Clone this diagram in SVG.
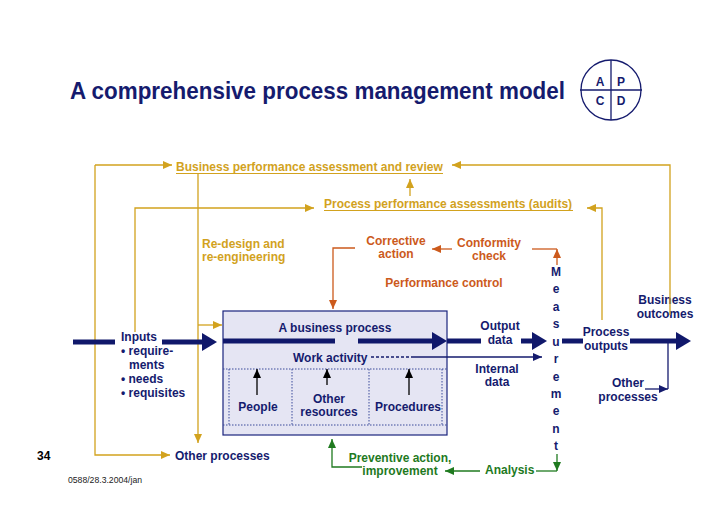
<svg xmlns="http://www.w3.org/2000/svg" width="728" height="514" viewBox="0 0 728 514">
<defs>
<style>
text{font-family:"Liberation Sans",Arial,sans-serif;font-weight:bold;font-size:12px}
.nv{fill:#151b6e}
.gd{fill:#d2a21e}
.or{fill:#cc5a1c}
.gr{fill:#1f7a1f}
.m{text-anchor:middle}
.lg{stroke:#d2a21e;stroke-width:1.3;fill:none}
.lo{stroke:#cc5a1c;stroke-width:1.3;fill:none}
.lgr{stroke:#1f7a1f;stroke-width:1.3;fill:none}
.ln{stroke:#151b6e;stroke-width:1.3;fill:none}
.lk{stroke:#000;stroke-width:1.3;fill:none}
.thick{stroke:#10186b;stroke-width:5;fill:none}
.dot{stroke:#3a4a9a;stroke-width:1;stroke-dasharray:1.5 1.5;fill:none}
</style>
<marker id="ag" markerUnits="userSpaceOnUse" markerWidth="9" markerHeight="8" refX="9" refY="4" orient="auto"><path d="M0,0 L9,4 L0,8 z" fill="#d2a21e"/></marker>
<marker id="ao" markerUnits="userSpaceOnUse" markerWidth="9" markerHeight="8" refX="9" refY="4" orient="auto"><path d="M0,0 L9,4 L0,8 z" fill="#cc5a1c"/></marker>
<marker id="agr" markerUnits="userSpaceOnUse" markerWidth="9" markerHeight="8" refX="9" refY="4" orient="auto"><path d="M0,0 L9,4 L0,8 z" fill="#1f7a1f"/></marker>
<marker id="an" markerUnits="userSpaceOnUse" markerWidth="9" markerHeight="8" refX="9" refY="4" orient="auto"><path d="M0,0 L9,4 L0,8 z" fill="#151b6e"/></marker>
<marker id="ak" markerUnits="userSpaceOnUse" markerWidth="9" markerHeight="8" refX="9" refY="4" orient="auto"><path d="M0,0 L9,4 L0,8 z" fill="#000"/></marker>
<marker id="at" markerUnits="userSpaceOnUse" markerWidth="15" markerHeight="18" refX="0" refY="9" orient="auto"><path d="M0,0 L15,9 L0,18 z" fill="#10186b"/></marker>
</defs>
<rect width="728" height="514" fill="#fff"/>

<g id="title">
<text x="70" y="99" class="nv" style="font-size:24px" textLength="495" lengthAdjust="spacingAndGlyphs">A comprehensive process management model</text>
</g>
<g id="pdca">
<circle cx="611" cy="90" r="30" fill="#fff" stroke="#151b6e" stroke-width="1.3"/>
<path d="M611,60 V120 M580,90 H642" class="ln"/>
<text x="600" y="86" class="nv m">A</text>
<text x="621" y="86" class="nv m">P</text>
<text x="600" y="105" class="nv m">C</text>
<text x="621" y="105" class="nv m">D</text>
</g>

<g id="business-process">
<rect x="223" y="311" width="224" height="124" fill="#e5e5f3" stroke="#1a237e" stroke-width="1.2"/>
<path d="M223,369 H447 M223,425 H447 M229,369 V425 M292,369 V425 M369,369 V425 M442,369 V425" class="dot"/>
<text x="335" y="332" class="nv m">A business process</text>
<text x="293" y="362" class="nv">Work activity</text>
</g>
<g id="people"><text x="258" y="411" class="nv m">People</text></g>
<g id="other-resources"><text x="329" y="403" class="nv m">Other</text><text x="329" y="416" class="nv m">resources</text></g>
<g id="procedures"><text x="408" y="411" class="nv m">Procedures</text></g>

<g id="business-review"><text x="176" y="171" class="gd">Business performance assessment and review</text><path d="M176,173.5 H443" stroke="#d2a21e" stroke-width="1"/></g>
<g id="process-audits"><text x="324" y="208" class="gd">Process performance assessments (audits)</text><path d="M324,210.5 H573" stroke="#d2a21e" stroke-width="1"/></g>
<g id="redesign"><text x="202" y="248" class="gd">Re-design and</text><text x="202" y="261" class="gd">re-engineering</text></g>
<g id="corrective"><text x="396" y="245" class="or m">Corrective</text><text x="396" y="258" class="or m">action</text></g>
<g id="conformity"><text x="489" y="247" class="or m">Conformity</text><text x="489" y="260" class="or m">check</text></g>
<g id="perf-control"><text x="444" y="287" class="or m">Performance control</text></g>

<g id="inputs">
<text x="121" y="341" class="nv">Inputs</text>
<text x="121" y="355" class="nv">• require-</text>
<text x="129" y="369" class="nv">ments</text>
<text x="121" y="383" class="nv">• needs</text>
<text x="121" y="397" class="nv">• requisites</text>
</g>
<g id="output-data"><text x="500" y="330" class="nv m">Output</text><text x="500" y="344" class="nv m">data</text></g>
<g id="internal-data"><text x="497" y="373" class="nv m">Internal</text><text x="497" y="386" class="nv m">data</text></g>
<g id="measurement">
<text x="556" y="276" class="nv m">M</text>
<text x="556" y="293" class="nv m">e</text>
<text x="556" y="311" class="nv m">a</text>
<text x="556" y="328" class="nv m">s</text>
<text x="556" y="346" class="nv m">u</text>
<text x="556" y="363" class="nv m">r</text>
<text x="556" y="381" class="nv m">e</text>
<text x="556" y="398" class="nv m">m</text>
<text x="556" y="415" class="nv m">e</text>
<text x="556" y="433" class="nv m">n</text>
<text x="556" y="450" class="nv m">t</text>
</g>
<g id="process-outputs"><text x="606" y="336" class="nv m">Process</text><text x="606" y="350" class="nv m">outputs</text></g>
<g id="business-outcomes"><text x="665" y="304" class="nv m">Business</text><text x="665" y="318" class="nv m">outcomes</text></g>
<g id="other-processes-right"><text x="628" y="387" class="nv m">Other</text><text x="628" y="401" class="nv m">processes</text></g>
<g id="other-processes-bottom"><text x="175" y="460" class="nv">Other processes</text></g>
<g id="preventive"><text x="400" y="462" class="gr m">Preventive action,</text><text x="400" y="475" class="gr m">improvement</text></g>
<g id="analysis"><text x="485" y="474" class="gr">Analysis</text></g>
<g id="footer">
<text x="37" y="460" fill="#000">34</text>
<text x="68" y="483" fill="#222" style="font-size:9.5px;font-weight:normal" textLength="74" lengthAdjust="spacingAndGlyphs">0588/28.3.2004/jan</text>
</g>

<g id="connectors">
<path d="M95,165 H172" class="lg" marker-end="url(#ag)"/>
<path d="M95,165 V455 H170" class="lg" marker-end="url(#ag)"/>
<path d="M670,315 V165 H452" class="lg" marker-end="url(#ag)"/>
<path d="M198,174 V443" class="lg" marker-end="url(#ag)"/>
<path d="M410,196 V179" class="lg" marker-end="url(#ag)"/>
<path d="M135,332 V208 H314" class="lg" marker-end="url(#ag)"/>
<path d="M602,320 V208 H587" class="lg" marker-end="url(#ag)"/>
<path d="M198,325 H222" class="lg" marker-end="url(#ag)"/>

<path d="M452,249 H432" class="lo" marker-end="url(#ao)"/>
<path d="M355,248 H333 V309" class="lo" marker-end="url(#ao)"/>
<path d="M532,249 H557" class="lo"/>
<path d="M557,265 V249" class="lo" marker-end="url(#ao)"/>

<path d="M480,471 H445" class="lgr" marker-end="url(#agr)"/>
<path d="M362,467 H332 V439" class="lgr" marker-end="url(#agr)"/>
<path d="M536,471 H557" class="lgr"/>
<path d="M557,454 V471" class="lgr" marker-end="url(#agr)"/>

<path d="M73,342 H115" class="thick"/>
<path d="M162,342 H202" class="thick" marker-end="url(#at)"/>
<path d="M223,341 H335" class="thick"/>
<path d="M358,341 H432" class="thick" marker-end="url(#at)"/>
<path d="M447,341 H481" class="thick"/>
<path d="M521,341 H532" class="thick" marker-end="url(#at)"/>
<path d="M562,341 H583" class="thick"/>
<path d="M630,341 H676" class="thick" marker-end="url(#at)"/>

<path d="M668,341 V389" class="ln"/>
<path d="M645,389 H668" class="ln" marker-end="url(#an)"/>
<path d="M371,357 H412" class="ln" stroke-dasharray="3 2" stroke-width="1"/>
<path d="M412,357 H542" class="ln" stroke-width="1" marker-end="url(#an)"/>

<path d="M257,395 V369" class="lk" marker-end="url(#ak)"/>
<path d="M327,385 V369" class="lk" marker-end="url(#ak)"/>
<path d="M409,395 V369" class="lk" marker-end="url(#ak)"/>
</g>
</svg>
